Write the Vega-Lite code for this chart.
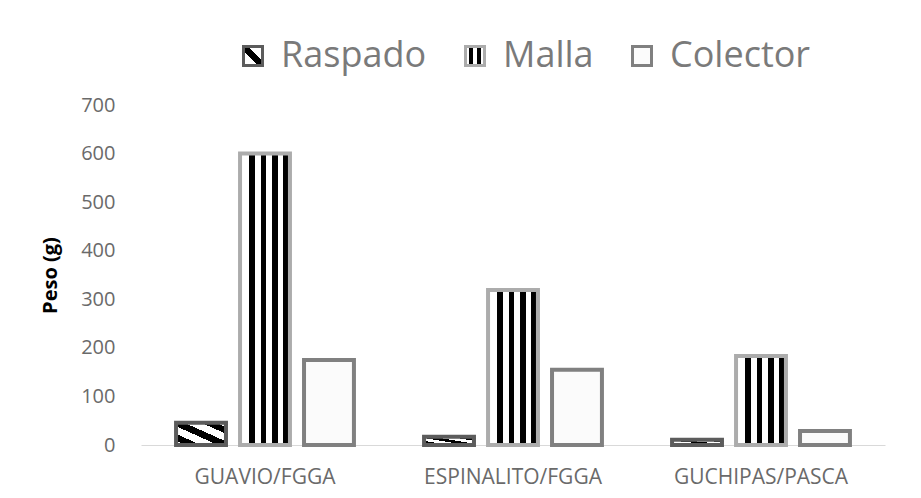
{
  "$schema": "https://vega.github.io/schema/vega-lite/v6.json",
  "width": 744,
  "height": 340,
  "autosize": "none",
  "padding": {"left": 141, "top": 105, "right": 36, "bottom": 53},
  "background": "#ffffff",
  "config": {
    "view": {"stroke": null},
    "font": "Open Sans",
    "axis": {"labelFont": "Open Sans", "titleFont": "Open Sans"},
    "legend": {"labelFont": "Open Sans"}
  },
  "data": {
    "values": [
      {"sitio": "GUAVIO/FGGA", "metodo": "Raspado", "peso": 46},
      {"sitio": "GUAVIO/FGGA", "metodo": "Malla", "peso": 600},
      {"sitio": "GUAVIO/FGGA", "metodo": "Colector", "peso": 175},
      {"sitio": "ESPINALITO/FGGA", "metodo": "Raspado", "peso": 17},
      {"sitio": "ESPINALITO/FGGA", "metodo": "Malla", "peso": 319},
      {"sitio": "ESPINALITO/FGGA", "metodo": "Colector", "peso": 155},
      {"sitio": "GUCHIPAS/PASCA", "metodo": "Raspado", "peso": 11},
      {"sitio": "GUCHIPAS/PASCA", "metodo": "Malla", "peso": 183},
      {"sitio": "GUCHIPAS/PASCA", "metodo": "Colector", "peso": 29}
    ]
  },
  "mark": {"type": "bar", "strokeWidth": 4},
  "encoding": {
    "x": {
      "field": "sitio",
      "type": "nominal",
      "sort": null,
      "scale": {"paddingInner": 0.226, "paddingOuter": 0.113},
      "axis": {
        "title": null,
        "labelAngle": 0,
        "labelFontSize": 21,
        "labelColor": "#6a6a6a",
        "labelPadding": 21,
        "ticks": false,
        "domainColor": "#d9d9d9",
        "domainWidth": 1
      }
    },
    "xOffset": {
      "field": "metodo",
      "type": "nominal",
      "sort": ["Raspado", "Malla", "Colector"],
      "scale": {"paddingInner": 0.22, "paddingOuter": 0.11}
    },
    "y": {
      "field": "peso",
      "type": "quantitative",
      "scale": {"domain": [0, 700], "nice": false},
      "axis": {
        "title": "Peso (g)",
        "titleFontSize": 20,
        "titleFontWeight": "bold",
        "titleColor": "#000000",
        "titlePadding": 20,
        "values": [0, 100, 200, 300, 400, 500, 600, 700],
        "labelFontSize": 20,
        "labelColor": "#6a6a6a",
        "labelPadding": 26,
        "ticks": false,
        "domain": false,
        "grid": false
      }
    },
    "fill": {
      "condition": [
        {
          "test": "datum.metodo === 'Raspado'",
          "value": {
            "gradient": "linear", "x1": 0, "y1": 1, "x2": 1, "y2": 0,
            "stops": [
              {"offset": 0, "color": "#ffffff"}, {"offset": 0.1, "color": "#ffffff"},
              {"offset": 0.1, "color": "#000000"}, {"offset": 0.25, "color": "#000000"},
              {"offset": 0.25, "color": "#ffffff"}, {"offset": 0.42, "color": "#ffffff"},
              {"offset": 0.42, "color": "#000000"}, {"offset": 0.58, "color": "#000000"},
              {"offset": 0.58, "color": "#ffffff"}, {"offset": 0.75, "color": "#ffffff"},
              {"offset": 0.75, "color": "#000000"}, {"offset": 0.9, "color": "#000000"},
              {"offset": 0.9, "color": "#ffffff"}, {"offset": 1, "color": "#ffffff"}
            ]
          }
        },
        {
          "test": "datum.metodo === 'Malla'",
          "value": {
            "gradient": "linear", "x1": 0, "y1": 0, "x2": 1, "y2": 0,
            "stops": [
              {"offset": 0, "color": "#ffffff"}, {"offset": 0.18, "color": "#ffffff"},
              {"offset": 0.18, "color": "#000000"}, {"offset": 0.3, "color": "#000000"},
              {"offset": 0.3, "color": "#ffffff"}, {"offset": 0.41, "color": "#ffffff"},
              {"offset": 0.41, "color": "#000000"}, {"offset": 0.53, "color": "#000000"},
              {"offset": 0.53, "color": "#ffffff"}, {"offset": 0.64, "color": "#ffffff"},
              {"offset": 0.64, "color": "#000000"}, {"offset": 0.76, "color": "#000000"},
              {"offset": 0.76, "color": "#ffffff"}, {"offset": 0.86, "color": "#ffffff"},
              {"offset": 0.86, "color": "#000000"}, {"offset": 0.97, "color": "#000000"},
              {"offset": 0.97, "color": "#ffffff"}, {"offset": 1, "color": "#ffffff"}
            ]
          }
        }
      ],
      "value": "#fbfbfb"
    },
    "stroke": {
      "field": "metodo",
      "type": "nominal",
      "sort": ["Raspado", "Malla", "Colector"],
      "scale": {
        "domain": ["Raspado", "Malla", "Colector"],
        "range": ["#5c5c5c", "#acacac", "#808080"]
      },
      "legend": {
        "title": null,
        "orient": "none",
        "direction": "horizontal",
        "legendX": 94,
        "legendY": -67,
        "padding": 0,
        "symbolType": "square",
        "symbolSize": 361,
        "symbolStrokeWidth": 3,
        "labelFontSize": 36,
        "labelColor": "#7a7a7a",
        "labelOffset": 10,
        "columnPadding": 30,
        "labelLimit": 400,
        "encoding": {
          "symbols": {
            "fill": {
              "condition": [
                {
                  "test": "datum.value === 'Raspado'",
                  "value": {
                    "gradient": "linear", "x1": 0, "y1": 1, "x2": 1, "y2": 0,
                    "stops": [
                      {"offset": 0, "color": "#ffffff"}, {"offset": 0.38, "color": "#ffffff"},
                      {"offset": 0.38, "color": "#000000"}, {"offset": 0.62, "color": "#000000"},
                      {"offset": 0.62, "color": "#ffffff"}, {"offset": 1, "color": "#ffffff"}
                    ]
                  }
                },
                {
                  "test": "datum.value === 'Malla'",
                  "value": {
                    "gradient": "linear", "x1": 0, "y1": 0, "x2": 1, "y2": 0,
                    "stops": [
                      {"offset": 0, "color": "#ffffff"}, {"offset": 0.2, "color": "#ffffff"},
                      {"offset": 0.2, "color": "#000000"}, {"offset": 0.42, "color": "#000000"},
                      {"offset": 0.42, "color": "#ffffff"}, {"offset": 0.58, "color": "#ffffff"},
                      {"offset": 0.58, "color": "#000000"}, {"offset": 0.8, "color": "#000000"},
                      {"offset": 0.8, "color": "#ffffff"}, {"offset": 1, "color": "#ffffff"}
                    ]
                  }
                }
              ],
              "value": "#fbfbfb"
            }
          }
        }
      }
    }
  }
}
